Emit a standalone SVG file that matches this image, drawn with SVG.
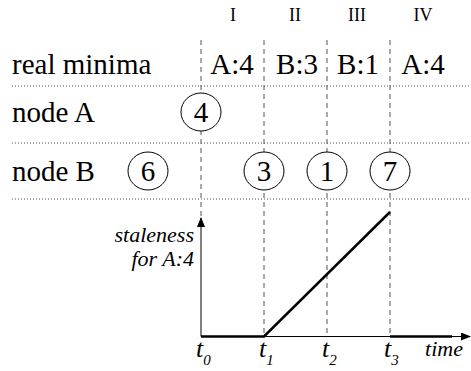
<svg xmlns="http://www.w3.org/2000/svg" width="471" height="371" viewBox="0 0 471 371">
<defs>
<marker id="ah" markerWidth="10" markerHeight="8" refX="9" refY="4" orient="auto" markerUnits="userSpaceOnUse">
<path d="M0,0 L10,4 L0,8 Z" fill="#000"/>
</marker>
</defs>
<g id="grid" stroke="#555" stroke-width="1" stroke-dasharray="1 2" fill="none">
<line x1="12" y1="86" x2="471" y2="86"/>
<line x1="12" y1="143" x2="471" y2="143"/>
<line x1="12" y1="199" x2="471" y2="199"/>
</g>
<g id="connectors">
<g stroke="#555" stroke-width="1" stroke-dasharray="5 4" fill="none">
<line x1="201" y1="40" x2="201" y2="228"/>
<line x1="264" y1="40" x2="264" y2="336"/>
<line x1="327" y1="40" x2="327" y2="336"/>
<line x1="390" y1="40" x2="390" y2="336"/>
</g>
<line x1="201" y1="336.5" x2="201" y2="218" stroke="#000" stroke-width="1" marker-end="url(#ah)"/>
<line x1="201" y1="336.5" x2="470" y2="336.5" stroke="#000" stroke-width="1" marker-end="url(#ah)"/>
<polyline points="201,336.5 264,336.5 390,212" fill="none" stroke="#000" stroke-width="2.5"/>
<line x1="390" y1="336.5" x2="452" y2="336.5" stroke="#000" stroke-width="2.5"/>
</g>
<g id="headers">
<text font-family="Times New Roman" font-size="18" x="233" y="21" text-anchor="middle">I</text>
<text font-family="Times New Roman" font-size="18" x="295" y="21" text-anchor="middle">II</text>
<text font-family="Times New Roman" font-size="18" x="357" y="21" text-anchor="middle">III</text>
<text font-family="Times New Roman" font-size="18" x="423" y="21" text-anchor="middle">IV</text>
</g>
<g id="labels">
<text font-family="Times New Roman" font-size="29" x="12" y="74">real minima</text>
<text font-family="Times New Roman" font-size="29" x="12" y="122">node A</text>
<text font-family="Times New Roman" font-size="29" x="12" y="181">node B</text>
</g>
<g id="minima">
<text font-family="Times New Roman" font-size="29" x="232" y="74" text-anchor="middle">A:4</text>
<text font-family="Times New Roman" font-size="29" x="297" y="74" text-anchor="middle">B:3</text>
<text font-family="Times New Roman" font-size="29" x="358" y="74" text-anchor="middle">B:1</text>
<text font-family="Times New Roman" font-size="29" x="423" y="74" text-anchor="middle">A:4</text>
</g>
<g id="nodeA4"><ellipse cx="201" cy="112" rx="20" ry="19" fill="#fff" stroke="#000"/><text font-family="Times New Roman" font-size="29" x="201" y="122" text-anchor="middle">4</text></g>
<g id="nodeB6"><ellipse cx="148" cy="171" rx="20" ry="19" fill="#fff" stroke="#000"/><text font-family="Times New Roman" font-size="29" x="148" y="181" text-anchor="middle">6</text></g>
<g id="nodeB3"><ellipse cx="264" cy="171" rx="20" ry="19" fill="#fff" stroke="#000"/><text font-family="Times New Roman" font-size="29" x="264" y="181" text-anchor="middle">3</text></g>
<g id="nodeB1"><ellipse cx="327" cy="171" rx="20" ry="19" fill="#fff" stroke="#000"/><text font-family="Times New Roman" font-size="29" x="327" y="181" text-anchor="middle">1</text></g>
<g id="nodeB7"><ellipse cx="390" cy="171" rx="20" ry="19" fill="#fff" stroke="#000"/><text font-family="Times New Roman" font-size="29" x="390" y="181" text-anchor="middle">7</text></g>
<g id="axis-labels">
<text font-family="Times New Roman" font-style="italic" font-size="22" x="194" y="242" text-anchor="end">staleness</text>
<text font-family="Times New Roman" font-style="italic" font-size="22" x="194" y="266" text-anchor="end">for A:4</text>
<text font-family="Times New Roman" font-style="italic" font-size="22" x="463" y="356" text-anchor="end">time</text>
<text font-family="Times New Roman" font-style="italic" font-size="26" x="196" y="357">t<tspan font-size="15" dy="8">0</tspan></text>
<text font-family="Times New Roman" font-style="italic" font-size="26" x="259" y="357">t<tspan font-size="15" dy="8">1</tspan></text>
<text font-family="Times New Roman" font-style="italic" font-size="26" x="322" y="357">t<tspan font-size="15" dy="8">2</tspan></text>
<text font-family="Times New Roman" font-style="italic" font-size="26" x="384" y="357">t<tspan font-size="15" dy="8">3</tspan></text>
</g>
</svg>
